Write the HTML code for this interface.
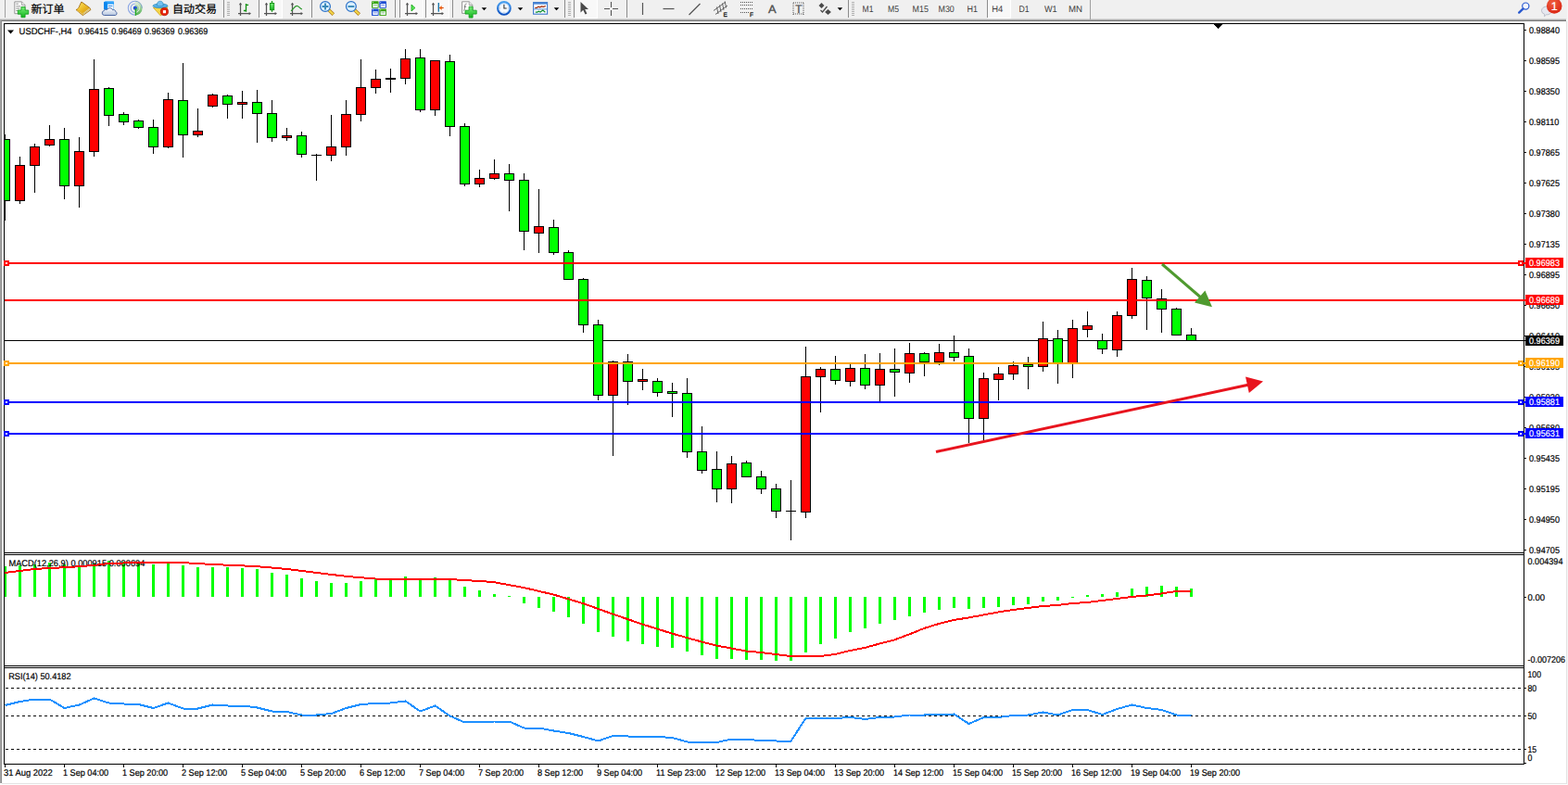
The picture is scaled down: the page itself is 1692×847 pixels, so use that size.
<!DOCTYPE html>
<html><head><meta charset="utf-8"><title>USDCHF H4</title>
<style>html,body{margin:0;padding:0;background:#fff;overflow:hidden}svg{display:block}text{font-family:"Liberation Sans",sans-serif;text-rendering:geometricPrecision}</style>
</head><body>
<svg width="1692" height="847" viewBox="0 0 1692 847">
<rect x="0" y="0" width="1692" height="847" fill="#ffffff"/>
<rect x="0" y="0" width="1692" height="21" fill="#f0f0f0"/>
<defs><linearGradient id="tg" x1="0" y1="0" x2="0" y2="1"><stop offset="0" stop-color="#e8e8e8"/><stop offset="0.4" stop-color="#b8b8b8"/><stop offset="1" stop-color="#606060"/></linearGradient><linearGradient id="lg" x1="0" y1="0" x2="1" y2="0"><stop offset="0" stop-color="#a8a8a8"/><stop offset="0.6" stop-color="#a0a0a0"/><stop offset="1" stop-color="#707070"/></linearGradient></defs>
<rect x="0" y="20" width="1690" height="3" fill="url(#tg)"/>
<rect x="0" y="22" width="2" height="823" fill="url(#lg)"/>
<rect x="1690" y="23" width="1" height="823" fill="#e3e3e3"/>
<rect x="1691" y="0" width="1" height="847" fill="#f6f6f6"/>
<rect x="2" y="845" width="1689" height="1" fill="#e3e3e3"/>
<defs><linearGradient id="gd" x1="0" y1="0" x2="1" y2="1"><stop offset="0" stop-color="#fbe870"/><stop offset="0.55" stop-color="#ecb822"/><stop offset="1" stop-color="#c8901a"/></linearGradient><linearGradient id="gp" x1="0" y1="0" x2="0" y2="1"><stop offset="0" stop-color="#7af07a"/><stop offset="1" stop-color="#12b41c"/></linearGradient><linearGradient id="cl" x1="0" y1="0" x2="0" y2="1"><stop offset="0" stop-color="#ffffff"/><stop offset="1" stop-color="#b4c4de"/></linearGradient><linearGradient id="sw" x1="0" y1="0" x2="0" y2="1"><stop offset="0" stop-color="#e4eee0"/><stop offset="1" stop-color="#3aa83a"/></linearGradient><linearGradient id="ck" x1="0" y1="0" x2="0" y2="1"><stop offset="0" stop-color="#48a0f0"/><stop offset="1" stop-color="#0c50c0"/></linearGradient><radialGradient id="rb" cx="0.4" cy="0.3" r="0.8"><stop offset="0" stop-color="#f06040"/><stop offset="1" stop-color="#d82010"/></radialGradient></defs>
<rect x="5" y="0" width="1" height="19" fill="#a0a0a0" shape-rendering="crispEdges"/>
<path d="M15.8 1.9h7.6l3.6 3.6v9.2h-11.2z" fill="#fdfdfd" stroke="#8c8c8c" stroke-width="0.9"/><path d="M23.4 1.9v3.6h3.6" fill="#e8e8e8" stroke="#8c8c8c" stroke-width="0.7"/><path d="M17.3 4.2h2.6M17.3 6.8h4.8M17.3 9.1h4M17.3 11.5h2" stroke="#8a8a8a" stroke-width="0.9"/><path d="M22.9 7.5h4.2v3.5h3.6v4.2h-3.6v3.5h-4.2v-3.5h-3.6v-4.2h3.6z" fill="url(#gp)" stroke="#0e9a18" stroke-width="0.8"/>
<path d="M87.900 2l8.900 6.400 1.100 2.200-8.500 6-7.300-6c2-1 3.500-2.600 3.300-3.400z" fill="#e8b428" stroke="#a06c12" stroke-width="0.900" stroke-linejoin="round"/><path d="M88.100 3l8 5.600-6.600 5.200-6.200-3.700c1.500-.8 3-2.400 2.900-3.300z" fill="url(#gd)"/><path d="M83 10.700l6.500 3.700v1.900l-6.600-5.200z" fill="#d9a21e"/><path d="M83.300 11.500l6.200 3.800" stroke="#f6e08a" stroke-width="0.600"/><path d="M89.700 14.300l6.900-5.200.8 1.500-7.700 5.500z" fill="#eadfae"/><path d="M89.800 15.200l7.200-5.300" stroke="#a8853a" stroke-width="0.450"/>
<path d="M112 2.2l2.2-1h8.2l.6 1.2v8h-11z" fill="#1c98f8"/><path d="M112 2.200l2.200-1h8.200l.6 1.200z" fill="#6cc0ff"/><rect x="112" y="2.200" width="3.400" height="8" fill="#0a86ec"/><rect x="116.2" y="4.4" width="6.4" height="6" fill="#f0f8ff"/><rect x="117" y="5.9" width="4.4" height="0.9" fill="#2880e0"/><path d="M112.400 16.500a2.500 2.500 0 0 1-.3-4.900a2.800 2.800 0 0 1 3.400-1.200a3.400 3.400 0 0 1 6.200.4a2.400 2.400 0 0 1 3.300 1.900a2.100 2.100 0 0 1-.4 3.800z" fill="url(#cl)" stroke="#3e5c9c" stroke-width="0.9"/>
<path d="M145.8 8.8v-7.8a7.8 7.8 0 0 1 0 15.6z" fill="url(#sw)" opacity="0.9"/><g fill="none"><path d="M145.8 1.2a7.5 7.5 0 0 0 0 15" stroke="#4a76dc" stroke-width="1.1" opacity="0.6"/><path d="M145.8 4a4.7 4.7 0 0 0 0 9.4" stroke="#4a76dc" stroke-width="1.1" opacity="0.6"/><path d="M145.8 1.2a7.5 7.5 0 0 1 7.5 7.5" stroke="#6a94c8" stroke-width="1" opacity="0.8"/><path d="M145.8 4a4.7 4.7 0 0 1 0 9.4" stroke="#eef4ee" stroke-width="0.9" opacity="0.9"/></g><circle cx="145.8" cy="8.7" r="2.1" fill="#2454d4"/><rect x="145.8" y="9" width="1.2" height="7.8" fill="#1fa81f"/>
<path d="M165.3 8.2l15.4-.8-.6 4-6.8 5.5z" fill="#f6d648" stroke="#cc9c14" stroke-width="0.7"/><ellipse cx="173" cy="6.300" rx="8" ry="2.300" fill="#58b0e8" stroke="#2486b8" stroke-width="0.700"/><path d="M169.300 6c0-3.200 1.200-4.800 3.500-4.800s3.400 1.600 3.400 4.800c-2 .9-5 .9-6.900 0z" fill="#74c0f0" stroke="#2486b8" stroke-width="0.600"/><circle cx="177.4" cy="12.6" r="4.1" fill="#e62408" stroke="#b41404" stroke-width="0.8"/><rect x="175.9" y="11.1" width="3.1" height="3.1" fill="#fff"/>
<rect x="241" y="0" width="1" height="19" fill="#8c8c8c" shape-rendering="crispEdges"/>
<path d="M245 2h3v1h-3zM245 4h3v1h-3zM245 6h3v1h-3zM245 8h3v1h-3zM245 10h3v1h-3zM245 12h3v1h-3zM245 14h3v1h-3zM245 16h3v1h-3z" fill="#b0b0b0" shape-rendering="crispEdges"/>
<path d="M259.5 3.6v13.3M257 14.6h13" stroke="#555" stroke-width="1.25" fill="none"/><path d="M259.5 2.8l-1.7 2.4h3.400zM271 14.6l-2.4-1.7v3.400z" fill="#555"/>
<path d="M265.5 4v8.800M265.500 5.300h2.600M262.900 11.500h2.600" stroke="#109010" stroke-width="1.3" fill="none"/>
<rect x="279" y="0" width="1" height="19" fill="#8c8c8c" shape-rendering="crispEdges"/>
<rect x="280" y="0" width="24" height="19" fill="#f8f8f8"/><rect x="280" y="19" width="25" height="1" fill="#ffffff"/><rect x="304" y="0" width="1" height="20" fill="#ffffff"/>
<path d="M287.5 3.6v13.3M285 14.6h13" stroke="#555" stroke-width="1.25" fill="none"/><path d="M287.5 2.8l-1.7 2.4h3.400zM299 14.6l-2.4-1.7v3.400z" fill="#555"/>
<path d="M293.500 1v11.800" stroke="#109010" stroke-width="1.2"/><rect x="291.400" y="3.500" width="4.300" height="7.200" fill="url(#gp)" stroke="#109010" stroke-width="0.9"/>
<path d="M315.5 3.6v13.3M313 14.6h13" stroke="#555" stroke-width="1.25" fill="none"/><path d="M315.5 2.8l-1.7 2.4h3.400zM327 14.6l-2.4-1.7v3.400z" fill="#555"/>
<path d="M314 11.800c2.200-1.600 4-5.400 6.200-5.500s3 2.800 5.700 3.700" stroke="#2a982a" stroke-width="1.2" fill="none"/>
<rect x="336" y="0" width="1" height="19" fill="#8c8c8c" shape-rendering="crispEdges"/>
<path d="M354.8 10.800l5 4.800" stroke="#a8741a" stroke-width="3.600" stroke-linecap="butt"/><path d="M354.6 10.600l5 4.800" stroke="#f2d448" stroke-width="2.200" stroke-linecap="butt"/><circle cx="351" cy="7" r="5.400" fill="#daf0ff" stroke="#2a70c8" stroke-width="1.200"/><path d="M347.6 7h6.800M351 3.600v6.800" stroke="#3a88b8" stroke-width="1.900"/>
<path d="M382.7 10.800l5 4.800" stroke="#a8741a" stroke-width="3.600" stroke-linecap="butt"/><path d="M382.5 10.600l5 4.800" stroke="#f2d448" stroke-width="2.200" stroke-linecap="butt"/><circle cx="378.9" cy="7" r="5.400" fill="#daf0ff" stroke="#2a70c8" stroke-width="1.200"/><path d="M375.5 7h6.800" stroke="#3a88b8" stroke-width="1.900"/>
<rect x="401" y="1.3" width="7.600" height="7.400" rx="0.700" fill="#3aa414"/><rect x="402.3" y="4.1" width="5.400" height="3.800" fill="#f4f8ff"/><rect x="403.1" y="5.3" width="3.800" height="0.800" fill="#3aa414" opacity="0.700"/><rect x="401.9" y="2.2" width="1" height="0.800" fill="#fff" opacity="0.800"/>
<rect x="409.3" y="1.3" width="7.600" height="7.400" rx="0.700" fill="#1c4cd2"/><rect x="410.6" y="4.1" width="5.400" height="3.800" fill="#f4f8ff"/><rect x="411.40000000000003" y="5.3" width="3.800" height="0.800" fill="#1c4cd2" opacity="0.700"/><rect x="410.2" y="2.2" width="1" height="0.800" fill="#fff" opacity="0.800"/>
<rect x="401" y="9.5" width="7.600" height="7.400" rx="0.700" fill="#1c4cd2"/><rect x="402.3" y="12.3" width="5.400" height="3.800" fill="#f4f8ff"/><rect x="403.1" y="13.5" width="3.800" height="0.800" fill="#1c4cd2" opacity="0.700"/><rect x="401.9" y="10.4" width="1" height="0.800" fill="#fff" opacity="0.800"/>
<rect x="409.3" y="9.5" width="7.600" height="7.400" rx="0.700" fill="#3aa414"/><rect x="410.6" y="12.3" width="5.400" height="3.800" fill="#f4f8ff"/><rect x="411.40000000000003" y="13.5" width="3.800" height="0.800" fill="#3aa414" opacity="0.700"/><rect x="410.2" y="10.4" width="1" height="0.800" fill="#fff" opacity="0.800"/>
<rect x="426" y="0" width="1" height="19" fill="#8c8c8c" shape-rendering="crispEdges"/>
<rect x="431" y="0" width="1" height="19" fill="#8c8c8c" shape-rendering="crispEdges"/>
<rect x="432" y="0" width="24" height="19" fill="#f8f8f8"/><rect x="432" y="19" width="25" height="1" fill="#ffffff"/><rect x="456" y="0" width="1" height="20" fill="#ffffff"/>
<path d="M439.5 3.6v13.3M437 14.6h13" stroke="#555" stroke-width="1.25" fill="none"/><path d="M439.5 2.8l-1.7 2.4h3.400zM451 14.6l-2.4-1.7v3.400z" fill="#555"/>
<path d="M444 5l3.900 3.500-3.900 3.500z" fill="#58e858" stroke="#10a010" stroke-width="0.800"/>
<rect x="459" y="0" width="1" height="19" fill="#8c8c8c" shape-rendering="crispEdges"/>
<rect x="460" y="0" width="24" height="19" fill="#f8f8f8"/><rect x="460" y="19" width="25" height="1" fill="#ffffff"/><rect x="484" y="0" width="1" height="20" fill="#ffffff"/>
<path d="M467.5 3.6v13.3M465 14.6h13" stroke="#555" stroke-width="1.25" fill="none"/><path d="M467.5 2.8l-1.7 2.4h3.400zM479 14.6l-2.4-1.7v3.400z" fill="#555"/>
<path d="M473.300 3.100v9.700" stroke="#1070a8" stroke-width="1.300"/><path d="M478.700 8.500h-4.400" stroke="#d84808" stroke-width="1.100"/><path d="M474 8.500l2.600-2.400v4.800z" fill="#e85808"/>
<rect x="488" y="0" width="1" height="19" fill="#8c8c8c" shape-rendering="crispEdges"/>
<path d="M498.600 1.800h7.600l3.600 3.600v9h-11.200z" fill="#fdfdfd" stroke="#8c8c8c" stroke-width="0.900"/><path d="M506.200 1.800v3.600h3.600" fill="#e8e8e8" stroke="#8c8c8c" stroke-width="0.700"/><path d="M503.600 4c-1.600-.2-1.800 1.200-2 3s-.2 4.400-1.400 4.600M500.800 7.200h2.400" stroke="#666" stroke-width="0.800" fill="none"/><path d="M506.100 7.200h4v4h4.100v3.900h-4.100v4h-4v-4h-4.100v-3.900h4.100z" fill="url(#gp)" stroke="#0e9a18" stroke-width="0.800"/>
<path d="M519.6 8.2h5.6l-2.8 3z" fill="#000"/>
<circle cx="543.900" cy="8.900" r="6.800" fill="#f6faff" stroke="url(#ck)" stroke-width="2.100"/><circle cx="543.900" cy="8.900" r="5.300" fill="none" stroke="#9cc4f4" stroke-width="0.600"/><path d="M543.900 5v4h2.800" stroke="#333" stroke-width="1.100" fill="none"/><path d="M543.900 4.200v.8M543.900 12.800v.8M539.200 8.900h.8M547.800 8.900h.800" stroke="#999" stroke-width="0.700"/>
<path d="M558.7 8.2h5.6l-2.8 3z" fill="#000"/>
<rect x="575.600" y="2.600" width="15" height="12.600" fill="#fafcff" stroke="#3c78cc" stroke-width="1.100"/><rect x="575.600" y="2.600" width="15" height="2" fill="#4684d4"/><path d="M577.200 8.500l2-.1 1.800-1.300 1.600.7 1.800-.9 2 .5 2.400-.9" stroke="#a02808" stroke-width="1.200" fill="none"/><path d="M576.200 9.900h13.800" stroke="#4684d4" stroke-width="0.900"/><path d="M577.800 13.200l2-.1 1.600-.9 1.600.8 2.800-2 2.600 2.200" stroke="#109030" stroke-width="1.200" fill="none"/>
<path d="M597.7 8.2h5.6l-2.8 3z" fill="#000"/>
<rect x="609" y="0" width="1" height="19" fill="#8c8c8c" shape-rendering="crispEdges"/>
<path d="M612.5 2h3v1h-3zM612.5 4h3v1h-3zM612.5 6h3v1h-3zM612.5 8h3v1h-3zM612.5 10h3v1h-3zM612.5 12h3v1h-3zM612.5 14h3v1h-3zM612.5 16h3v1h-3z" fill="#b0b0b0" shape-rendering="crispEdges"/>
<rect x="619" y="0" width="1" height="19" fill="#8c8c8c" shape-rendering="crispEdges"/>
<rect x="620" y="0" width="24" height="19" fill="#f8f8f8"/><rect x="620" y="19" width="25" height="1" fill="#ffffff"/><rect x="644" y="0" width="1" height="20" fill="#ffffff"/>
<path d="M626.500 2l0 11.400 2.800-2.600 2.200 4.800 1.900-.9-2.200-4.600 3.800-.2z" fill="#4a4a4a"/>
<path d="M659.500 2v6M659.500 11v6M652 9.500h6M661 9.500h6" stroke="#555" stroke-width="1.100"/>
<rect x="676" y="0" width="1" height="19" fill="#8c8c8c" shape-rendering="crispEdges"/>
<path d="M693.500 3v13" stroke="#555" stroke-width="1.200"/>
<path d="M715.500 9.500h12" stroke="#555" stroke-width="1.200"/>
<path d="M743.500 16l12-12" stroke="#555" stroke-width="1.200"/>
<path d="M770 11.500l13-9.500M772 15.500l13-9.500M773.500 7.500l1.500 7.500M776.500 5.500l1.500 7.500M779.500 3.500l1.500 7.500M782.200 1.500l1.400 7" stroke="#555" stroke-width="0.900" fill="none"/>
<path d="M799 2.5h1M801 2.5h1M803 2.5h1M805 2.5h1M807 2.5h1M809 2.5h1M811 2.5h1" stroke="#555" stroke-width="1"/>
<path d="M799 5.5h1M801 5.5h1M803 5.5h1M805 5.5h1M807 5.5h1M809 5.5h1M811 5.5h1" stroke="#555" stroke-width="1"/>
<path d="M799 9.5h1M801 9.5h1M803 9.5h1M805 9.5h1M807 9.5h1M809 9.5h1M811 9.5h1" stroke="#555" stroke-width="1"/>
<path d="M799 13.5h1M801 13.5h1M803 13.5h1M805 13.5h1M807 13.5h1" stroke="#555" stroke-width="1"/>
<path d="M856 3h1M856 15h1M858 3h1M858 15h1M860 3h1M860 15h1M862 3h1M862 15h1M864 3h1M864 15h1M866 3h1M866 15h1M856 3v1M867 3v1M856 5v1M867 5v1M856 7v1M867 7v1M856 9v1M867 9v1M856 11v1M867 11v1M856 13v1M867 13v1M856 15v1M867 15v1" stroke="#555" stroke-width="1"/>
<path d="M886.500 3l3 3-3 3-3-3z" fill="#4a4a4a"/><path d="M893.500 10l3.400 3-3.400 3-3.400-3z" fill="#4a4a4a"/><path d="M885.500 11l2 2 5-6" stroke="#4a4a4a" stroke-width="1.300" fill="none"/>
<path d="M903.6 8.2h5.6l-2.8 3z" fill="#000"/>
<rect x="915" y="0" width="1" height="19" fill="#8c8c8c" shape-rendering="crispEdges"/>
<path d="M918.5 2h3v1h-3zM918.5 4h3v1h-3zM918.5 6h3v1h-3zM918.5 8h3v1h-3zM918.5 10h3v1h-3zM918.5 12h3v1h-3zM918.5 14h3v1h-3zM918.5 16h3v1h-3z" fill="#b0b0b0" shape-rendering="crispEdges"/>
<rect x="1065" y="0" width="1" height="19" fill="#8c8c8c" shape-rendering="crispEdges"/>
<rect x="1066" y="0" width="24" height="19" fill="#f8f8f8"/><rect x="1066" y="19" width="25" height="1" fill="#ffffff"/><rect x="1090" y="0" width="1" height="20" fill="#ffffff"/>
<rect x="1176" y="0" width="1" height="21" fill="#a0a0a0" shape-rendering="crispEdges"/>
<circle cx="1646.300" cy="6.600" r="3.600" fill="#f4f6fc" stroke="#2a5ad0" stroke-width="1.200"/><path d="M1643.600 9.400l-4.400 4.200" stroke="#2a5ad0" stroke-width="2.400" stroke-linecap="round"/>
<path d="M1663.500 11.500a5.500 4.500 0 0 1 11 0a5.500 4.500 0 0 1-6 4.400l-2 1.800 .2-2.400a5 4 0 0 1-3.200-3.800z" fill="#e6e8f0" stroke="#b0b4c0" stroke-width="0.800"/><circle cx="1677.200" cy="6.400" r="8.300" fill="url(#rb)"/>
<text x="33.500" y="14.200" font-size="12" fill="#000" stroke="#000" stroke-width="0.2" style="font-family:'Liberation Sans','Noto Sans CJK SC',sans-serif">新订单</text>
<text x="186" y="14.200" font-size="12" fill="#000" stroke="#000" stroke-width="0.2" style="font-family:'Liberation Sans','Noto Sans CJK SC',sans-serif">自动交易</text>
<text transform="translate(930.6,13.0) scale(0.8741,1)" font-size="9.8" fill="#404040">M1</text>
<text transform="translate(958,13.0) scale(0.8815,1)" font-size="9.8" fill="#404040">M5</text>
<text transform="translate(984.6,13.0) scale(0.9075,1)" font-size="9.8" fill="#404040">M15</text>
<text transform="translate(1012.5,13.0) scale(0.9075,1)" font-size="9.8" fill="#404040">M30</text>
<text transform="translate(1043.5,13.0) scale(0.918,1)" font-size="9.8" fill="#404040">H1</text>
<text transform="translate(1070.2,13.0) scale(0.9579,1)" font-size="9.8" fill="#404040">H4</text>
<text transform="translate(1099.4,13.0) scale(0.894,1)" font-size="9.8" fill="#404040">D1</text>
<text transform="translate(1126.9,13.0) scale(0.932,1)" font-size="9.8" fill="#404040">W1</text>
<text transform="translate(1153,13.0) scale(0.9842,1)" font-size="9.8" fill="#404040">MN</text>
<text transform="translate(829,13.6) scale(1.0569,1)" font-size="12.2" fill="#505050" stroke="#505050" stroke-width="0.35">A</text>
<text transform="translate(858.2,14.0) scale(0.943,1)" font-size="12.5" fill="#505050" stroke="#505050" stroke-width="0.35">T</text>
<text x="780.6" y="17.6" font-size="6.5" fill="#222" stroke="#222" stroke-width="0.3">E</text>
<text x="808.9" y="17.6" font-size="6.5" fill="#222" stroke="#222" stroke-width="0.3">F</text>
<text x="1677.2" y="11.0" font-size="12.5" fill="#fff" stroke="#fff" stroke-width="0.2" text-anchor="middle">1</text>
<g shape-rendering="crispEdges">
<rect x="4" y="25" width="1" height="800" fill="#000000"/>
<rect x="1644" y="25" width="1" height="800" fill="#000000"/>
<rect x="4" y="25" width="1641" height="1" fill="#000000"/>
<rect x="4" y="596" width="1641" height="1" fill="#000000"/>
<rect x="4" y="598" width="1641" height="1" fill="#000000"/>
<rect x="4" y="718" width="1641" height="1" fill="#000000"/>
<rect x="4" y="720" width="1641" height="1" fill="#000000"/>
<rect x="4" y="824" width="1641" height="1" fill="#000000"/>
<rect x="1310" y="26" width="9" height="1" fill="#000000"/>
<rect x="1311" y="27" width="7" height="1" fill="#000000"/>
<rect x="1312" y="28" width="5" height="1" fill="#000000"/>
<rect x="1313" y="29" width="3" height="1" fill="#000000"/>
<rect x="1314" y="30" width="1" height="1" fill="#000000"/>
<rect x="1645" y="32" width="2" height="1" fill="#000000"/>
<rect x="1645" y="65" width="2" height="1" fill="#000000"/>
<rect x="1645" y="98" width="2" height="1" fill="#000000"/>
<rect x="1645" y="131" width="2" height="1" fill="#000000"/>
<rect x="1645" y="164" width="2" height="1" fill="#000000"/>
<rect x="1645" y="197" width="2" height="1" fill="#000000"/>
<rect x="1645" y="230" width="2" height="1" fill="#000000"/>
<rect x="1645" y="263" width="2" height="1" fill="#000000"/>
<rect x="1645" y="296" width="2" height="1" fill="#000000"/>
<rect x="1645" y="329" width="2" height="1" fill="#000000"/>
<rect x="1645" y="362" width="2" height="1" fill="#000000"/>
<rect x="1645" y="395" width="2" height="1" fill="#000000"/>
<rect x="1645" y="428" width="2" height="1" fill="#000000"/>
<rect x="1645" y="461" width="2" height="1" fill="#000000"/>
<rect x="1645" y="494" width="2" height="1" fill="#000000"/>
<rect x="1645" y="527" width="2" height="1" fill="#000000"/>
<rect x="1645" y="560" width="2" height="1" fill="#000000"/>
<rect x="1645" y="593" width="2" height="1" fill="#000000"/>
<rect x="1645" y="644" width="2" height="1" fill="#000000"/>
<rect x="1645" y="742" width="2" height="1" fill="#000000"/>
<rect x="1645" y="772" width="2" height="1" fill="#000000"/>
<rect x="1645" y="808" width="2" height="1" fill="#000000"/>
<rect x="1645" y="823" width="2" height="1" fill="#000000"/>
<rect x="5" y="825" width="1" height="3" fill="#000000"/>
<rect x="69" y="825" width="1" height="3" fill="#000000"/>
<rect x="133" y="825" width="1" height="3" fill="#000000"/>
<rect x="197" y="825" width="1" height="3" fill="#000000"/>
<rect x="261" y="825" width="1" height="3" fill="#000000"/>
<rect x="325" y="825" width="1" height="3" fill="#000000"/>
<rect x="389" y="825" width="1" height="3" fill="#000000"/>
<rect x="453" y="825" width="1" height="3" fill="#000000"/>
<rect x="517" y="825" width="1" height="3" fill="#000000"/>
<rect x="581" y="825" width="1" height="3" fill="#000000"/>
<rect x="645" y="825" width="1" height="3" fill="#000000"/>
<rect x="709" y="825" width="1" height="3" fill="#000000"/>
<rect x="773" y="825" width="1" height="3" fill="#000000"/>
<rect x="837" y="825" width="1" height="3" fill="#000000"/>
<rect x="901" y="825" width="1" height="3" fill="#000000"/>
<rect x="965" y="825" width="1" height="3" fill="#000000"/>
<rect x="1029" y="825" width="1" height="3" fill="#000000"/>
<rect x="1093" y="825" width="1" height="3" fill="#000000"/>
<rect x="1157" y="825" width="1" height="3" fill="#000000"/>
<rect x="1221" y="825" width="1" height="3" fill="#000000"/>
<rect x="1285" y="825" width="1" height="3" fill="#000000"/>
</g>
<text transform="translate(1650,36.0) scale(0.9316,1)" font-size="9.8" fill="#000" stroke="#000" stroke-width="0.2">0.98840</text>
<text transform="translate(1650,69.0) scale(0.9316,1)" font-size="9.8" fill="#000" stroke="#000" stroke-width="0.2">0.98595</text>
<text transform="translate(1650,102.0) scale(0.9316,1)" font-size="9.8" fill="#000" stroke="#000" stroke-width="0.2">0.98350</text>
<text transform="translate(1650,135.0) scale(0.9316,1)" font-size="9.8" fill="#000" stroke="#000" stroke-width="0.2">0.98110</text>
<text transform="translate(1650,168.0) scale(0.9316,1)" font-size="9.8" fill="#000" stroke="#000" stroke-width="0.2">0.97865</text>
<text transform="translate(1650,201.0) scale(0.9316,1)" font-size="9.8" fill="#000" stroke="#000" stroke-width="0.2">0.97625</text>
<text transform="translate(1650,234.0) scale(0.9316,1)" font-size="9.8" fill="#000" stroke="#000" stroke-width="0.2">0.97380</text>
<text transform="translate(1650,267.0) scale(0.9316,1)" font-size="9.8" fill="#000" stroke="#000" stroke-width="0.2">0.97135</text>
<text transform="translate(1650,300.0) scale(0.9316,1)" font-size="9.8" fill="#000" stroke="#000" stroke-width="0.2">0.96895</text>
<text transform="translate(1650,333.0) scale(0.9316,1)" font-size="9.8" fill="#000" stroke="#000" stroke-width="0.2">0.96650</text>
<text transform="translate(1650,366.0) scale(0.9316,1)" font-size="9.8" fill="#000" stroke="#000" stroke-width="0.2">0.96410</text>
<text transform="translate(1650,399.0) scale(0.9316,1)" font-size="9.8" fill="#000" stroke="#000" stroke-width="0.2">0.96165</text>
<text transform="translate(1650,432.0) scale(0.9316,1)" font-size="9.8" fill="#000" stroke="#000" stroke-width="0.2">0.95920</text>
<text transform="translate(1650,465.0) scale(0.9316,1)" font-size="9.8" fill="#000" stroke="#000" stroke-width="0.2">0.95680</text>
<text transform="translate(1650,498.0) scale(0.9316,1)" font-size="9.8" fill="#000" stroke="#000" stroke-width="0.2">0.95435</text>
<text transform="translate(1650,531.0) scale(0.9316,1)" font-size="9.8" fill="#000" stroke="#000" stroke-width="0.2">0.95195</text>
<text transform="translate(1650,564.0) scale(0.9316,1)" font-size="9.8" fill="#000" stroke="#000" stroke-width="0.2">0.94950</text>
<text transform="translate(1650,597.0) scale(0.9316,1)" font-size="9.8" fill="#000" stroke="#000" stroke-width="0.2">0.94705</text>
<text transform="translate(1648.5,609.0) scale(0.9297,1)" font-size="9.8" fill="#000" stroke="#000" stroke-width="0.2">0.004394</text>
<text transform="translate(1648.5,648.0) scale(0.9699,1)" font-size="9.8" fill="#000" stroke="#000" stroke-width="0.2">0.00</text>
<text transform="translate(1648.5,715.0) scale(0.9176,1)" font-size="9.8" fill="#000" stroke="#000" stroke-width="0.2">-0.007206</text>
<text transform="translate(1648.5,731.0) scale(0.8868,1)" font-size="9.8" fill="#000" stroke="#000" stroke-width="0.2">100</text>
<text transform="translate(1648.5,746.0) scale(0.8899,1)" font-size="9.8" fill="#000" stroke="#000" stroke-width="0.2">80</text>
<text transform="translate(1648.5,776.0) scale(0.8899,1)" font-size="9.8" fill="#000" stroke="#000" stroke-width="0.2">50</text>
<text transform="translate(1648.5,812.0) scale(0.8899,1)" font-size="9.8" fill="#000" stroke="#000" stroke-width="0.2">15</text>
<text transform="translate(1648.5,821.0) scale(0.899,1)" font-size="9.8" fill="#000" stroke="#000" stroke-width="0.2">0</text>
<path d="M8 32.5h7l-3.5 4z" fill="#000"/>
<text transform="translate(20.6,37.0) scale(0.9605,1)" font-size="9.8" fill="#000" stroke="#000" stroke-width="0.2">USDCHF-,H4</text>
<text transform="translate(84.4,37.0) scale(0.9146,1)" font-size="9.8" fill="#000" stroke="#000" stroke-width="0.2">0.96415</text>
<text transform="translate(120.3,37.0) scale(0.9146,1)" font-size="9.8" fill="#000" stroke="#000" stroke-width="0.2">0.96469</text>
<text transform="translate(156,37.0) scale(0.9146,1)" font-size="9.8" fill="#000" stroke="#000" stroke-width="0.2">0.96369</text>
<text transform="translate(191.9,37.0) scale(0.9146,1)" font-size="9.8" fill="#000" stroke="#000" stroke-width="0.2">0.96369</text>
<g shape-rendering="crispEdges">
<rect x="5" y="367" width="1641" height="1" fill="#000000"/>
<clipPath id="cm"><rect x="5" y="26" width="1639" height="570"/></clipPath><g clip-path="url(#cm)">
<rect x="5" y="145" width="1" height="93" fill="#000000"/>
<rect x="0" y="150" width="11" height="67" fill="#000000"/>
<rect x="1" y="151" width="9" height="65" fill="#00FF00"/>
<rect x="21" y="169" width="1" height="51" fill="#000000"/>
<rect x="16" y="178" width="11" height="39" fill="#000000"/>
<rect x="17" y="179" width="9" height="37" fill="#FF0000"/>
<rect x="37" y="155" width="1" height="53" fill="#000000"/>
<rect x="32" y="158" width="11" height="21" fill="#000000"/>
<rect x="33" y="159" width="9" height="19" fill="#FF0000"/>
<rect x="53" y="135" width="1" height="23" fill="#000000"/>
<rect x="48" y="150" width="11" height="7" fill="#000000"/>
<rect x="49" y="151" width="9" height="5" fill="#FF0000"/>
<rect x="69" y="138" width="1" height="77" fill="#000000"/>
<rect x="64" y="150" width="11" height="51" fill="#000000"/>
<rect x="65" y="151" width="9" height="49" fill="#00FF00"/>
<rect x="85" y="148" width="1" height="76" fill="#000000"/>
<rect x="80" y="163" width="11" height="38" fill="#000000"/>
<rect x="81" y="164" width="9" height="36" fill="#FF0000"/>
<rect x="101" y="64" width="1" height="105" fill="#000000"/>
<rect x="96" y="96" width="11" height="68" fill="#000000"/>
<rect x="97" y="97" width="9" height="66" fill="#FF0000"/>
<rect x="117" y="94" width="1" height="42" fill="#000000"/>
<rect x="112" y="95" width="11" height="30" fill="#000000"/>
<rect x="113" y="96" width="9" height="28" fill="#00FF00"/>
<rect x="133" y="121" width="1" height="14" fill="#000000"/>
<rect x="128" y="123" width="11" height="9" fill="#000000"/>
<rect x="129" y="124" width="9" height="7" fill="#00FF00"/>
<rect x="149" y="129" width="1" height="10" fill="#000000"/>
<rect x="144" y="130" width="11" height="8" fill="#000000"/>
<rect x="145" y="131" width="9" height="6" fill="#00FF00"/>
<rect x="165" y="129" width="1" height="37" fill="#000000"/>
<rect x="160" y="137" width="11" height="22" fill="#000000"/>
<rect x="161" y="138" width="9" height="20" fill="#00FF00"/>
<rect x="181" y="100" width="1" height="60" fill="#000000"/>
<rect x="176" y="107" width="11" height="52" fill="#000000"/>
<rect x="177" y="108" width="9" height="50" fill="#FF0000"/>
<rect x="197" y="68" width="1" height="102" fill="#000000"/>
<rect x="192" y="108" width="11" height="38" fill="#000000"/>
<rect x="193" y="109" width="9" height="36" fill="#00FF00"/>
<rect x="213" y="117" width="1" height="31" fill="#000000"/>
<rect x="208" y="141" width="11" height="5" fill="#000000"/>
<rect x="209" y="142" width="9" height="3" fill="#FF0000"/>
<rect x="229" y="101" width="1" height="15" fill="#000000"/>
<rect x="224" y="102" width="11" height="13" fill="#000000"/>
<rect x="225" y="103" width="9" height="11" fill="#FF0000"/>
<rect x="245" y="102" width="1" height="26" fill="#000000"/>
<rect x="240" y="103" width="11" height="10" fill="#000000"/>
<rect x="241" y="104" width="9" height="8" fill="#00FF00"/>
<rect x="261" y="98" width="1" height="30" fill="#000000"/>
<rect x="256" y="110" width="11" height="3" fill="#000000"/>
<rect x="257" y="111" width="9" height="1" fill="#FF0000"/>
<rect x="277" y="97" width="1" height="57" fill="#000000"/>
<rect x="272" y="110" width="11" height="13" fill="#000000"/>
<rect x="273" y="111" width="9" height="11" fill="#00FF00"/>
<rect x="293" y="108" width="1" height="45" fill="#000000"/>
<rect x="288" y="122" width="11" height="27" fill="#000000"/>
<rect x="289" y="123" width="9" height="25" fill="#00FF00"/>
<rect x="309" y="138" width="1" height="14" fill="#000000"/>
<rect x="304" y="146" width="11" height="3" fill="#000000"/>
<rect x="305" y="147" width="9" height="1" fill="#FF0000"/>
<rect x="325" y="142" width="1" height="28" fill="#000000"/>
<rect x="320" y="146" width="11" height="21" fill="#000000"/>
<rect x="321" y="147" width="9" height="19" fill="#00FF00"/>
<rect x="341" y="166" width="1" height="29" fill="#000000"/>
<rect x="336" y="167" width="11" height="1" fill="#000000"/>
<rect x="357" y="124" width="1" height="50" fill="#000000"/>
<rect x="352" y="158" width="11" height="10" fill="#000000"/>
<rect x="353" y="159" width="9" height="8" fill="#FF0000"/>
<rect x="373" y="108" width="1" height="60" fill="#000000"/>
<rect x="368" y="123" width="11" height="36" fill="#000000"/>
<rect x="369" y="124" width="9" height="34" fill="#FF0000"/>
<rect x="389" y="64" width="1" height="67" fill="#000000"/>
<rect x="384" y="94" width="11" height="30" fill="#000000"/>
<rect x="385" y="95" width="9" height="28" fill="#FF0000"/>
<rect x="405" y="75" width="1" height="26" fill="#000000"/>
<rect x="400" y="85" width="11" height="10" fill="#000000"/>
<rect x="401" y="86" width="9" height="8" fill="#FF0000"/>
<rect x="421" y="74" width="1" height="26" fill="#000000"/>
<rect x="416" y="84" width="11" height="2" fill="#000000"/>
<rect x="437" y="53" width="1" height="38" fill="#000000"/>
<rect x="432" y="63" width="11" height="22" fill="#000000"/>
<rect x="433" y="64" width="9" height="20" fill="#FF0000"/>
<rect x="453" y="53" width="1" height="68" fill="#000000"/>
<rect x="448" y="62" width="11" height="57" fill="#000000"/>
<rect x="449" y="63" width="9" height="55" fill="#00FF00"/>
<rect x="469" y="65" width="1" height="60" fill="#000000"/>
<rect x="464" y="65" width="11" height="54" fill="#000000"/>
<rect x="465" y="66" width="9" height="52" fill="#FF0000"/>
<rect x="485" y="59" width="1" height="88" fill="#000000"/>
<rect x="480" y="66" width="11" height="71" fill="#000000"/>
<rect x="481" y="67" width="9" height="69" fill="#00FF00"/>
<rect x="501" y="133" width="1" height="68" fill="#000000"/>
<rect x="496" y="136" width="11" height="63" fill="#000000"/>
<rect x="497" y="137" width="9" height="61" fill="#00FF00"/>
<rect x="517" y="183" width="1" height="19" fill="#000000"/>
<rect x="512" y="192" width="11" height="7" fill="#000000"/>
<rect x="513" y="193" width="9" height="5" fill="#FF0000"/>
<rect x="533" y="172" width="1" height="22" fill="#000000"/>
<rect x="528" y="187" width="11" height="6" fill="#000000"/>
<rect x="529" y="188" width="9" height="4" fill="#FF0000"/>
<rect x="549" y="177" width="1" height="51" fill="#000000"/>
<rect x="544" y="187" width="11" height="8" fill="#000000"/>
<rect x="545" y="188" width="9" height="6" fill="#00FF00"/>
<rect x="565" y="187" width="1" height="83" fill="#000000"/>
<rect x="560" y="194" width="11" height="56" fill="#000000"/>
<rect x="561" y="195" width="9" height="54" fill="#00FF00"/>
<rect x="581" y="204" width="1" height="69" fill="#000000"/>
<rect x="576" y="244" width="11" height="8" fill="#000000"/>
<rect x="577" y="245" width="9" height="6" fill="#FF0000"/>
<rect x="597" y="237" width="1" height="38" fill="#000000"/>
<rect x="592" y="245" width="11" height="28" fill="#000000"/>
<rect x="593" y="246" width="9" height="26" fill="#00FF00"/>
<rect x="613" y="270" width="1" height="32" fill="#000000"/>
<rect x="608" y="272" width="11" height="30" fill="#000000"/>
<rect x="609" y="273" width="9" height="28" fill="#00FF00"/>
<rect x="629" y="300" width="1" height="59" fill="#000000"/>
<rect x="624" y="301" width="11" height="50" fill="#000000"/>
<rect x="625" y="302" width="9" height="48" fill="#00FF00"/>
<rect x="645" y="345" width="1" height="87" fill="#000000"/>
<rect x="640" y="350" width="11" height="77" fill="#000000"/>
<rect x="641" y="351" width="9" height="75" fill="#00FF00"/>
<rect x="661" y="389" width="1" height="103" fill="#000000"/>
<rect x="656" y="390" width="11" height="37" fill="#000000"/>
<rect x="657" y="391" width="9" height="35" fill="#FF0000"/>
<rect x="677" y="382" width="1" height="55" fill="#000000"/>
<rect x="672" y="390" width="11" height="22" fill="#000000"/>
<rect x="673" y="391" width="9" height="20" fill="#00FF00"/>
<rect x="693" y="398" width="1" height="23" fill="#000000"/>
<rect x="688" y="409" width="11" height="3" fill="#000000"/>
<rect x="689" y="410" width="9" height="1" fill="#FF0000"/>
<rect x="709" y="408" width="1" height="20" fill="#000000"/>
<rect x="704" y="411" width="11" height="13" fill="#000000"/>
<rect x="705" y="412" width="9" height="11" fill="#00FF00"/>
<rect x="725" y="413" width="1" height="37" fill="#000000"/>
<rect x="720" y="422" width="11" height="3" fill="#000000"/>
<rect x="721" y="423" width="9" height="1" fill="#00FF00"/>
<rect x="741" y="408" width="1" height="86" fill="#000000"/>
<rect x="736" y="424" width="11" height="64" fill="#000000"/>
<rect x="737" y="425" width="9" height="62" fill="#00FF00"/>
<rect x="757" y="460" width="1" height="51" fill="#000000"/>
<rect x="752" y="487" width="11" height="21" fill="#000000"/>
<rect x="753" y="488" width="9" height="19" fill="#00FF00"/>
<rect x="773" y="487" width="1" height="55" fill="#000000"/>
<rect x="768" y="506" width="11" height="22" fill="#000000"/>
<rect x="769" y="507" width="9" height="20" fill="#00FF00"/>
<rect x="789" y="492" width="1" height="51" fill="#000000"/>
<rect x="784" y="500" width="11" height="28" fill="#000000"/>
<rect x="785" y="501" width="9" height="26" fill="#FF0000"/>
<rect x="805" y="497" width="1" height="18" fill="#000000"/>
<rect x="800" y="499" width="11" height="16" fill="#000000"/>
<rect x="801" y="500" width="9" height="14" fill="#00FF00"/>
<rect x="821" y="508" width="1" height="25" fill="#000000"/>
<rect x="816" y="514" width="11" height="14" fill="#000000"/>
<rect x="817" y="515" width="9" height="12" fill="#00FF00"/>
<rect x="837" y="522" width="1" height="37" fill="#000000"/>
<rect x="832" y="527" width="11" height="25" fill="#000000"/>
<rect x="833" y="528" width="9" height="23" fill="#00FF00"/>
<rect x="853" y="518" width="1" height="65" fill="#000000"/>
<rect x="848" y="551" width="11" height="1" fill="#000000"/>
<rect x="869" y="374" width="1" height="185" fill="#000000"/>
<rect x="864" y="406" width="11" height="147" fill="#000000"/>
<rect x="865" y="407" width="9" height="145" fill="#FF0000"/>
<rect x="885" y="396" width="1" height="49" fill="#000000"/>
<rect x="880" y="398" width="11" height="9" fill="#000000"/>
<rect x="881" y="399" width="9" height="7" fill="#FF0000"/>
<rect x="901" y="384" width="1" height="31" fill="#000000"/>
<rect x="896" y="398" width="11" height="13" fill="#000000"/>
<rect x="897" y="399" width="9" height="11" fill="#00FF00"/>
<rect x="917" y="393" width="1" height="24" fill="#000000"/>
<rect x="912" y="397" width="11" height="15" fill="#000000"/>
<rect x="913" y="398" width="9" height="13" fill="#FF0000"/>
<rect x="933" y="382" width="1" height="38" fill="#000000"/>
<rect x="928" y="397" width="11" height="19" fill="#000000"/>
<rect x="929" y="398" width="9" height="17" fill="#00FF00"/>
<rect x="949" y="381" width="1" height="52" fill="#000000"/>
<rect x="944" y="398" width="11" height="18" fill="#000000"/>
<rect x="945" y="399" width="9" height="16" fill="#FF0000"/>
<rect x="965" y="376" width="1" height="52" fill="#000000"/>
<rect x="960" y="398" width="11" height="4" fill="#000000"/>
<rect x="961" y="399" width="9" height="2" fill="#00FF00"/>
<rect x="981" y="370" width="1" height="43" fill="#000000"/>
<rect x="976" y="381" width="11" height="22" fill="#000000"/>
<rect x="977" y="382" width="9" height="20" fill="#FF0000"/>
<rect x="997" y="380" width="1" height="26" fill="#000000"/>
<rect x="992" y="381" width="11" height="10" fill="#000000"/>
<rect x="993" y="382" width="9" height="8" fill="#00FF00"/>
<rect x="1013" y="371" width="1" height="23" fill="#000000"/>
<rect x="1008" y="380" width="11" height="11" fill="#000000"/>
<rect x="1009" y="381" width="9" height="9" fill="#FF0000"/>
<rect x="1029" y="362" width="1" height="28" fill="#000000"/>
<rect x="1024" y="380" width="11" height="6" fill="#000000"/>
<rect x="1025" y="381" width="9" height="4" fill="#00FF00"/>
<rect x="1045" y="376" width="1" height="102" fill="#000000"/>
<rect x="1040" y="384" width="11" height="68" fill="#000000"/>
<rect x="1041" y="385" width="9" height="66" fill="#00FF00"/>
<rect x="1061" y="402" width="1" height="73" fill="#000000"/>
<rect x="1056" y="408" width="11" height="44" fill="#000000"/>
<rect x="1057" y="409" width="9" height="42" fill="#FF0000"/>
<rect x="1077" y="396" width="1" height="36" fill="#000000"/>
<rect x="1072" y="403" width="11" height="7" fill="#000000"/>
<rect x="1073" y="404" width="9" height="5" fill="#FF0000"/>
<rect x="1093" y="390" width="1" height="20" fill="#000000"/>
<rect x="1088" y="394" width="11" height="10" fill="#000000"/>
<rect x="1089" y="395" width="9" height="8" fill="#FF0000"/>
<rect x="1109" y="385" width="1" height="35" fill="#000000"/>
<rect x="1104" y="393" width="11" height="3" fill="#000000"/>
<rect x="1105" y="394" width="9" height="1" fill="#00FF00"/>
<rect x="1125" y="347" width="1" height="54" fill="#000000"/>
<rect x="1120" y="365" width="11" height="31" fill="#000000"/>
<rect x="1121" y="366" width="9" height="29" fill="#FF0000"/>
<rect x="1141" y="356" width="1" height="58" fill="#000000"/>
<rect x="1136" y="365" width="11" height="27" fill="#000000"/>
<rect x="1137" y="366" width="9" height="25" fill="#00FF00"/>
<rect x="1157" y="345" width="1" height="63" fill="#000000"/>
<rect x="1152" y="354" width="11" height="38" fill="#000000"/>
<rect x="1153" y="355" width="9" height="36" fill="#FF0000"/>
<rect x="1173" y="336" width="1" height="28" fill="#000000"/>
<rect x="1168" y="351" width="11" height="5" fill="#000000"/>
<rect x="1169" y="352" width="9" height="3" fill="#FF0000"/>
<rect x="1189" y="360" width="1" height="22" fill="#000000"/>
<rect x="1184" y="367" width="11" height="10" fill="#000000"/>
<rect x="1185" y="368" width="9" height="8" fill="#00FF00"/>
<rect x="1205" y="336" width="1" height="49" fill="#000000"/>
<rect x="1200" y="340" width="11" height="38" fill="#000000"/>
<rect x="1201" y="341" width="9" height="36" fill="#FF0000"/>
<rect x="1221" y="289" width="1" height="55" fill="#000000"/>
<rect x="1216" y="301" width="11" height="40" fill="#000000"/>
<rect x="1217" y="302" width="9" height="38" fill="#FF0000"/>
<rect x="1237" y="298" width="1" height="58" fill="#000000"/>
<rect x="1232" y="302" width="11" height="20" fill="#000000"/>
<rect x="1233" y="303" width="9" height="18" fill="#00FF00"/>
<rect x="1253" y="312" width="1" height="47" fill="#000000"/>
<rect x="1248" y="322" width="11" height="12" fill="#000000"/>
<rect x="1249" y="323" width="9" height="10" fill="#00FF00"/>
<rect x="1269" y="332" width="1" height="30" fill="#000000"/>
<rect x="1264" y="333" width="11" height="29" fill="#000000"/>
<rect x="1265" y="334" width="9" height="27" fill="#00FF00"/>
<rect x="1285" y="354" width="1" height="14" fill="#000000"/>
<rect x="1280" y="361" width="11" height="7" fill="#000000"/>
<rect x="1281" y="362" width="9" height="5" fill="#00FF00"/>
</g>
<clipPath id="c2"><rect x="5" y="599" width="1639" height="119"/></clipPath><g clip-path="url(#c2)">
<rect x="4" y="611" width="3" height="33" fill="#00FF00"/>
<rect x="20" y="610" width="3" height="34" fill="#00FF00"/>
<rect x="36" y="609" width="3" height="35" fill="#00FF00"/>
<rect x="52" y="607" width="3" height="37" fill="#00FF00"/>
<rect x="68" y="609" width="3" height="35" fill="#00FF00"/>
<rect x="84" y="610" width="3" height="34" fill="#00FF00"/>
<rect x="100" y="608" width="3" height="36" fill="#00FF00"/>
<rect x="116" y="605" width="3" height="39" fill="#00FF00"/>
<rect x="132" y="606" width="3" height="38" fill="#00FF00"/>
<rect x="148" y="607" width="3" height="37" fill="#00FF00"/>
<rect x="164" y="609" width="3" height="35" fill="#00FF00"/>
<rect x="180" y="608" width="3" height="36" fill="#00FF00"/>
<rect x="196" y="610" width="3" height="34" fill="#00FF00"/>
<rect x="212" y="612" width="3" height="32" fill="#00FF00"/>
<rect x="228" y="612" width="3" height="32" fill="#00FF00"/>
<rect x="244" y="612" width="3" height="32" fill="#00FF00"/>
<rect x="260" y="613" width="3" height="31" fill="#00FF00"/>
<rect x="276" y="614" width="3" height="30" fill="#00FF00"/>
<rect x="292" y="618" width="3" height="26" fill="#00FF00"/>
<rect x="308" y="620" width="3" height="24" fill="#00FF00"/>
<rect x="324" y="624" width="3" height="20" fill="#00FF00"/>
<rect x="340" y="627" width="3" height="17" fill="#00FF00"/>
<rect x="356" y="629" width="3" height="15" fill="#00FF00"/>
<rect x="372" y="629" width="3" height="15" fill="#00FF00"/>
<rect x="388" y="627" width="3" height="17" fill="#00FF00"/>
<rect x="404" y="625" width="3" height="19" fill="#00FF00"/>
<rect x="420" y="626" width="3" height="18" fill="#00FF00"/>
<rect x="436" y="622" width="3" height="22" fill="#00FF00"/>
<rect x="452" y="624" width="3" height="20" fill="#00FF00"/>
<rect x="468" y="623" width="3" height="21" fill="#00FF00"/>
<rect x="484" y="626" width="3" height="18" fill="#00FF00"/>
<rect x="500" y="633" width="3" height="11" fill="#00FF00"/>
<rect x="516" y="637" width="3" height="7" fill="#00FF00"/>
<rect x="532" y="641" width="3" height="3" fill="#00FF00"/>
<rect x="548" y="643" width="3" height="1" fill="#00FF00"/>
<rect x="564" y="644" width="3" height="7" fill="#00FF00"/>
<rect x="580" y="644" width="3" height="12" fill="#00FF00"/>
<rect x="596" y="644" width="3" height="16" fill="#00FF00"/>
<rect x="612" y="644" width="3" height="22" fill="#00FF00"/>
<rect x="628" y="644" width="3" height="29" fill="#00FF00"/>
<rect x="644" y="644" width="3" height="38" fill="#00FF00"/>
<rect x="660" y="644" width="3" height="43" fill="#00FF00"/>
<rect x="676" y="644" width="3" height="48" fill="#00FF00"/>
<rect x="692" y="644" width="3" height="51" fill="#00FF00"/>
<rect x="708" y="644" width="3" height="54" fill="#00FF00"/>
<rect x="724" y="644" width="3" height="55" fill="#00FF00"/>
<rect x="740" y="644" width="3" height="59" fill="#00FF00"/>
<rect x="756" y="644" width="3" height="63" fill="#00FF00"/>
<rect x="772" y="644" width="3" height="67" fill="#00FF00"/>
<rect x="788" y="644" width="3" height="67" fill="#00FF00"/>
<rect x="804" y="644" width="3" height="68" fill="#00FF00"/>
<rect x="820" y="644" width="3" height="68" fill="#00FF00"/>
<rect x="836" y="644" width="3" height="69" fill="#00FF00"/>
<rect x="852" y="644" width="3" height="69" fill="#00FF00"/>
<rect x="868" y="644" width="3" height="60" fill="#00FF00"/>
<rect x="884" y="644" width="3" height="51" fill="#00FF00"/>
<rect x="900" y="644" width="3" height="45" fill="#00FF00"/>
<rect x="916" y="644" width="3" height="38" fill="#00FF00"/>
<rect x="932" y="644" width="3" height="34" fill="#00FF00"/>
<rect x="948" y="644" width="3" height="29" fill="#00FF00"/>
<rect x="964" y="644" width="3" height="25" fill="#00FF00"/>
<rect x="980" y="644" width="3" height="21" fill="#00FF00"/>
<rect x="996" y="644" width="3" height="17" fill="#00FF00"/>
<rect x="1012" y="644" width="3" height="14" fill="#00FF00"/>
<rect x="1028" y="644" width="3" height="12" fill="#00FF00"/>
<rect x="1044" y="644" width="3" height="13" fill="#00FF00"/>
<rect x="1060" y="644" width="3" height="12" fill="#00FF00"/>
<rect x="1076" y="644" width="3" height="11" fill="#00FF00"/>
<rect x="1092" y="644" width="3" height="9" fill="#00FF00"/>
<rect x="1108" y="644" width="3" height="8" fill="#00FF00"/>
<rect x="1124" y="644" width="3" height="5" fill="#00FF00"/>
<rect x="1140" y="644" width="3" height="4" fill="#00FF00"/>
<rect x="1156" y="644" width="3" height="1" fill="#00FF00"/>
<rect x="1172" y="642" width="3" height="2" fill="#00FF00"/>
<rect x="1188" y="641" width="3" height="3" fill="#00FF00"/>
<rect x="1204" y="639" width="3" height="5" fill="#00FF00"/>
<rect x="1220" y="635" width="3" height="9" fill="#00FF00"/>
<rect x="1236" y="633" width="3" height="11" fill="#00FF00"/>
<rect x="1252" y="632" width="3" height="12" fill="#00FF00"/>
<rect x="1268" y="633" width="3" height="11" fill="#00FF00"/>
<rect x="1284" y="635" width="3" height="9" fill="#00FF00"/>
</g>
<path d="M6 742h3v1h-3zM12 742h3v1h-3zM18 742h3v1h-3zM24 742h3v1h-3zM30 742h3v1h-3zM36 742h3v1h-3zM42 742h3v1h-3zM48 742h3v1h-3zM54 742h3v1h-3zM60 742h3v1h-3zM66 742h3v1h-3zM72 742h3v1h-3zM78 742h3v1h-3zM84 742h3v1h-3zM90 742h3v1h-3zM96 742h3v1h-3zM102 742h3v1h-3zM108 742h3v1h-3zM114 742h3v1h-3zM120 742h3v1h-3zM126 742h3v1h-3zM132 742h3v1h-3zM138 742h3v1h-3zM144 742h3v1h-3zM150 742h3v1h-3zM156 742h3v1h-3zM162 742h3v1h-3zM168 742h3v1h-3zM174 742h3v1h-3zM180 742h3v1h-3zM186 742h3v1h-3zM192 742h3v1h-3zM198 742h3v1h-3zM204 742h3v1h-3zM210 742h3v1h-3zM216 742h3v1h-3zM222 742h3v1h-3zM228 742h3v1h-3zM234 742h3v1h-3zM240 742h3v1h-3zM246 742h3v1h-3zM252 742h3v1h-3zM258 742h3v1h-3zM264 742h3v1h-3zM270 742h3v1h-3zM276 742h3v1h-3zM282 742h3v1h-3zM288 742h3v1h-3zM294 742h3v1h-3zM300 742h3v1h-3zM306 742h3v1h-3zM312 742h3v1h-3zM318 742h3v1h-3zM324 742h3v1h-3zM330 742h3v1h-3zM336 742h3v1h-3zM342 742h3v1h-3zM348 742h3v1h-3zM354 742h3v1h-3zM360 742h3v1h-3zM366 742h3v1h-3zM372 742h3v1h-3zM378 742h3v1h-3zM384 742h3v1h-3zM390 742h3v1h-3zM396 742h3v1h-3zM402 742h3v1h-3zM408 742h3v1h-3zM414 742h3v1h-3zM420 742h3v1h-3zM426 742h3v1h-3zM432 742h3v1h-3zM438 742h3v1h-3zM444 742h3v1h-3zM450 742h3v1h-3zM456 742h3v1h-3zM462 742h3v1h-3zM468 742h3v1h-3zM474 742h3v1h-3zM480 742h3v1h-3zM486 742h3v1h-3zM492 742h3v1h-3zM498 742h3v1h-3zM504 742h3v1h-3zM510 742h3v1h-3zM516 742h3v1h-3zM522 742h3v1h-3zM528 742h3v1h-3zM534 742h3v1h-3zM540 742h3v1h-3zM546 742h3v1h-3zM552 742h3v1h-3zM558 742h3v1h-3zM564 742h3v1h-3zM570 742h3v1h-3zM576 742h3v1h-3zM582 742h3v1h-3zM588 742h3v1h-3zM594 742h3v1h-3zM600 742h3v1h-3zM606 742h3v1h-3zM612 742h3v1h-3zM618 742h3v1h-3zM624 742h3v1h-3zM630 742h3v1h-3zM636 742h3v1h-3zM642 742h3v1h-3zM648 742h3v1h-3zM654 742h3v1h-3zM660 742h3v1h-3zM666 742h3v1h-3zM672 742h3v1h-3zM678 742h3v1h-3zM684 742h3v1h-3zM690 742h3v1h-3zM696 742h3v1h-3zM702 742h3v1h-3zM708 742h3v1h-3zM714 742h3v1h-3zM720 742h3v1h-3zM726 742h3v1h-3zM732 742h3v1h-3zM738 742h3v1h-3zM744 742h3v1h-3zM750 742h3v1h-3zM756 742h3v1h-3zM762 742h3v1h-3zM768 742h3v1h-3zM774 742h3v1h-3zM780 742h3v1h-3zM786 742h3v1h-3zM792 742h3v1h-3zM798 742h3v1h-3zM804 742h3v1h-3zM810 742h3v1h-3zM816 742h3v1h-3zM822 742h3v1h-3zM828 742h3v1h-3zM834 742h3v1h-3zM840 742h3v1h-3zM846 742h3v1h-3zM852 742h3v1h-3zM858 742h3v1h-3zM864 742h3v1h-3zM870 742h3v1h-3zM876 742h3v1h-3zM882 742h3v1h-3zM888 742h3v1h-3zM894 742h3v1h-3zM900 742h3v1h-3zM906 742h3v1h-3zM912 742h3v1h-3zM918 742h3v1h-3zM924 742h3v1h-3zM930 742h3v1h-3zM936 742h3v1h-3zM942 742h3v1h-3zM948 742h3v1h-3zM954 742h3v1h-3zM960 742h3v1h-3zM966 742h3v1h-3zM972 742h3v1h-3zM978 742h3v1h-3zM984 742h3v1h-3zM990 742h3v1h-3zM996 742h3v1h-3zM1002 742h3v1h-3zM1008 742h3v1h-3zM1014 742h3v1h-3zM1020 742h3v1h-3zM1026 742h3v1h-3zM1032 742h3v1h-3zM1038 742h3v1h-3zM1044 742h3v1h-3zM1050 742h3v1h-3zM1056 742h3v1h-3zM1062 742h3v1h-3zM1068 742h3v1h-3zM1074 742h3v1h-3zM1080 742h3v1h-3zM1086 742h3v1h-3zM1092 742h3v1h-3zM1098 742h3v1h-3zM1104 742h3v1h-3zM1110 742h3v1h-3zM1116 742h3v1h-3zM1122 742h3v1h-3zM1128 742h3v1h-3zM1134 742h3v1h-3zM1140 742h3v1h-3zM1146 742h3v1h-3zM1152 742h3v1h-3zM1158 742h3v1h-3zM1164 742h3v1h-3zM1170 742h3v1h-3zM1176 742h3v1h-3zM1182 742h3v1h-3zM1188 742h3v1h-3zM1194 742h3v1h-3zM1200 742h3v1h-3zM1206 742h3v1h-3zM1212 742h3v1h-3zM1218 742h3v1h-3zM1224 742h3v1h-3zM1230 742h3v1h-3zM1236 742h3v1h-3zM1242 742h3v1h-3zM1248 742h3v1h-3zM1254 742h3v1h-3zM1260 742h3v1h-3zM1266 742h3v1h-3zM1272 742h3v1h-3zM1278 742h3v1h-3zM1284 742h3v1h-3zM1290 742h3v1h-3zM1296 742h3v1h-3zM1302 742h3v1h-3zM1308 742h3v1h-3zM1314 742h3v1h-3zM1320 742h3v1h-3zM1326 742h3v1h-3zM1332 742h3v1h-3zM1338 742h3v1h-3zM1344 742h3v1h-3zM1350 742h3v1h-3zM1356 742h3v1h-3zM1362 742h3v1h-3zM1368 742h3v1h-3zM1374 742h3v1h-3zM1380 742h3v1h-3zM1386 742h3v1h-3zM1392 742h3v1h-3zM1398 742h3v1h-3zM1404 742h3v1h-3zM1410 742h3v1h-3zM1416 742h3v1h-3zM1422 742h3v1h-3zM1428 742h3v1h-3zM1434 742h3v1h-3zM1440 742h3v1h-3zM1446 742h3v1h-3zM1452 742h3v1h-3zM1458 742h3v1h-3zM1464 742h3v1h-3zM1470 742h3v1h-3zM1476 742h3v1h-3zM1482 742h3v1h-3zM1488 742h3v1h-3zM1494 742h3v1h-3zM1500 742h3v1h-3zM1506 742h3v1h-3zM1512 742h3v1h-3zM1518 742h3v1h-3zM1524 742h3v1h-3zM1530 742h3v1h-3zM1536 742h3v1h-3zM1542 742h3v1h-3zM1548 742h3v1h-3zM1554 742h3v1h-3zM1560 742h3v1h-3zM1566 742h3v1h-3zM1572 742h3v1h-3zM1578 742h3v1h-3zM1584 742h3v1h-3zM1590 742h3v1h-3zM1596 742h3v1h-3zM1602 742h3v1h-3zM1608 742h3v1h-3zM1614 742h3v1h-3zM1620 742h3v1h-3zM1626 742h3v1h-3zM1632 742h3v1h-3zM1638 742h3v1h-3z" fill="#000"/>
<path d="M6 772h3v1h-3zM12 772h3v1h-3zM18 772h3v1h-3zM24 772h3v1h-3zM30 772h3v1h-3zM36 772h3v1h-3zM42 772h3v1h-3zM48 772h3v1h-3zM54 772h3v1h-3zM60 772h3v1h-3zM66 772h3v1h-3zM72 772h3v1h-3zM78 772h3v1h-3zM84 772h3v1h-3zM90 772h3v1h-3zM96 772h3v1h-3zM102 772h3v1h-3zM108 772h3v1h-3zM114 772h3v1h-3zM120 772h3v1h-3zM126 772h3v1h-3zM132 772h3v1h-3zM138 772h3v1h-3zM144 772h3v1h-3zM150 772h3v1h-3zM156 772h3v1h-3zM162 772h3v1h-3zM168 772h3v1h-3zM174 772h3v1h-3zM180 772h3v1h-3zM186 772h3v1h-3zM192 772h3v1h-3zM198 772h3v1h-3zM204 772h3v1h-3zM210 772h3v1h-3zM216 772h3v1h-3zM222 772h3v1h-3zM228 772h3v1h-3zM234 772h3v1h-3zM240 772h3v1h-3zM246 772h3v1h-3zM252 772h3v1h-3zM258 772h3v1h-3zM264 772h3v1h-3zM270 772h3v1h-3zM276 772h3v1h-3zM282 772h3v1h-3zM288 772h3v1h-3zM294 772h3v1h-3zM300 772h3v1h-3zM306 772h3v1h-3zM312 772h3v1h-3zM318 772h3v1h-3zM324 772h3v1h-3zM330 772h3v1h-3zM336 772h3v1h-3zM342 772h3v1h-3zM348 772h3v1h-3zM354 772h3v1h-3zM360 772h3v1h-3zM366 772h3v1h-3zM372 772h3v1h-3zM378 772h3v1h-3zM384 772h3v1h-3zM390 772h3v1h-3zM396 772h3v1h-3zM402 772h3v1h-3zM408 772h3v1h-3zM414 772h3v1h-3zM420 772h3v1h-3zM426 772h3v1h-3zM432 772h3v1h-3zM438 772h3v1h-3zM444 772h3v1h-3zM450 772h3v1h-3zM456 772h3v1h-3zM462 772h3v1h-3zM468 772h3v1h-3zM474 772h3v1h-3zM480 772h3v1h-3zM486 772h3v1h-3zM492 772h3v1h-3zM498 772h3v1h-3zM504 772h3v1h-3zM510 772h3v1h-3zM516 772h3v1h-3zM522 772h3v1h-3zM528 772h3v1h-3zM534 772h3v1h-3zM540 772h3v1h-3zM546 772h3v1h-3zM552 772h3v1h-3zM558 772h3v1h-3zM564 772h3v1h-3zM570 772h3v1h-3zM576 772h3v1h-3zM582 772h3v1h-3zM588 772h3v1h-3zM594 772h3v1h-3zM600 772h3v1h-3zM606 772h3v1h-3zM612 772h3v1h-3zM618 772h3v1h-3zM624 772h3v1h-3zM630 772h3v1h-3zM636 772h3v1h-3zM642 772h3v1h-3zM648 772h3v1h-3zM654 772h3v1h-3zM660 772h3v1h-3zM666 772h3v1h-3zM672 772h3v1h-3zM678 772h3v1h-3zM684 772h3v1h-3zM690 772h3v1h-3zM696 772h3v1h-3zM702 772h3v1h-3zM708 772h3v1h-3zM714 772h3v1h-3zM720 772h3v1h-3zM726 772h3v1h-3zM732 772h3v1h-3zM738 772h3v1h-3zM744 772h3v1h-3zM750 772h3v1h-3zM756 772h3v1h-3zM762 772h3v1h-3zM768 772h3v1h-3zM774 772h3v1h-3zM780 772h3v1h-3zM786 772h3v1h-3zM792 772h3v1h-3zM798 772h3v1h-3zM804 772h3v1h-3zM810 772h3v1h-3zM816 772h3v1h-3zM822 772h3v1h-3zM828 772h3v1h-3zM834 772h3v1h-3zM840 772h3v1h-3zM846 772h3v1h-3zM852 772h3v1h-3zM858 772h3v1h-3zM864 772h3v1h-3zM870 772h3v1h-3zM876 772h3v1h-3zM882 772h3v1h-3zM888 772h3v1h-3zM894 772h3v1h-3zM900 772h3v1h-3zM906 772h3v1h-3zM912 772h3v1h-3zM918 772h3v1h-3zM924 772h3v1h-3zM930 772h3v1h-3zM936 772h3v1h-3zM942 772h3v1h-3zM948 772h3v1h-3zM954 772h3v1h-3zM960 772h3v1h-3zM966 772h3v1h-3zM972 772h3v1h-3zM978 772h3v1h-3zM984 772h3v1h-3zM990 772h3v1h-3zM996 772h3v1h-3zM1002 772h3v1h-3zM1008 772h3v1h-3zM1014 772h3v1h-3zM1020 772h3v1h-3zM1026 772h3v1h-3zM1032 772h3v1h-3zM1038 772h3v1h-3zM1044 772h3v1h-3zM1050 772h3v1h-3zM1056 772h3v1h-3zM1062 772h3v1h-3zM1068 772h3v1h-3zM1074 772h3v1h-3zM1080 772h3v1h-3zM1086 772h3v1h-3zM1092 772h3v1h-3zM1098 772h3v1h-3zM1104 772h3v1h-3zM1110 772h3v1h-3zM1116 772h3v1h-3zM1122 772h3v1h-3zM1128 772h3v1h-3zM1134 772h3v1h-3zM1140 772h3v1h-3zM1146 772h3v1h-3zM1152 772h3v1h-3zM1158 772h3v1h-3zM1164 772h3v1h-3zM1170 772h3v1h-3zM1176 772h3v1h-3zM1182 772h3v1h-3zM1188 772h3v1h-3zM1194 772h3v1h-3zM1200 772h3v1h-3zM1206 772h3v1h-3zM1212 772h3v1h-3zM1218 772h3v1h-3zM1224 772h3v1h-3zM1230 772h3v1h-3zM1236 772h3v1h-3zM1242 772h3v1h-3zM1248 772h3v1h-3zM1254 772h3v1h-3zM1260 772h3v1h-3zM1266 772h3v1h-3zM1272 772h3v1h-3zM1278 772h3v1h-3zM1284 772h3v1h-3zM1290 772h3v1h-3zM1296 772h3v1h-3zM1302 772h3v1h-3zM1308 772h3v1h-3zM1314 772h3v1h-3zM1320 772h3v1h-3zM1326 772h3v1h-3zM1332 772h3v1h-3zM1338 772h3v1h-3zM1344 772h3v1h-3zM1350 772h3v1h-3zM1356 772h3v1h-3zM1362 772h3v1h-3zM1368 772h3v1h-3zM1374 772h3v1h-3zM1380 772h3v1h-3zM1386 772h3v1h-3zM1392 772h3v1h-3zM1398 772h3v1h-3zM1404 772h3v1h-3zM1410 772h3v1h-3zM1416 772h3v1h-3zM1422 772h3v1h-3zM1428 772h3v1h-3zM1434 772h3v1h-3zM1440 772h3v1h-3zM1446 772h3v1h-3zM1452 772h3v1h-3zM1458 772h3v1h-3zM1464 772h3v1h-3zM1470 772h3v1h-3zM1476 772h3v1h-3zM1482 772h3v1h-3zM1488 772h3v1h-3zM1494 772h3v1h-3zM1500 772h3v1h-3zM1506 772h3v1h-3zM1512 772h3v1h-3zM1518 772h3v1h-3zM1524 772h3v1h-3zM1530 772h3v1h-3zM1536 772h3v1h-3zM1542 772h3v1h-3zM1548 772h3v1h-3zM1554 772h3v1h-3zM1560 772h3v1h-3zM1566 772h3v1h-3zM1572 772h3v1h-3zM1578 772h3v1h-3zM1584 772h3v1h-3zM1590 772h3v1h-3zM1596 772h3v1h-3zM1602 772h3v1h-3zM1608 772h3v1h-3zM1614 772h3v1h-3zM1620 772h3v1h-3zM1626 772h3v1h-3zM1632 772h3v1h-3zM1638 772h3v1h-3z" fill="#000"/>
<path d="M6 808h3v1h-3zM12 808h3v1h-3zM18 808h3v1h-3zM24 808h3v1h-3zM30 808h3v1h-3zM36 808h3v1h-3zM42 808h3v1h-3zM48 808h3v1h-3zM54 808h3v1h-3zM60 808h3v1h-3zM66 808h3v1h-3zM72 808h3v1h-3zM78 808h3v1h-3zM84 808h3v1h-3zM90 808h3v1h-3zM96 808h3v1h-3zM102 808h3v1h-3zM108 808h3v1h-3zM114 808h3v1h-3zM120 808h3v1h-3zM126 808h3v1h-3zM132 808h3v1h-3zM138 808h3v1h-3zM144 808h3v1h-3zM150 808h3v1h-3zM156 808h3v1h-3zM162 808h3v1h-3zM168 808h3v1h-3zM174 808h3v1h-3zM180 808h3v1h-3zM186 808h3v1h-3zM192 808h3v1h-3zM198 808h3v1h-3zM204 808h3v1h-3zM210 808h3v1h-3zM216 808h3v1h-3zM222 808h3v1h-3zM228 808h3v1h-3zM234 808h3v1h-3zM240 808h3v1h-3zM246 808h3v1h-3zM252 808h3v1h-3zM258 808h3v1h-3zM264 808h3v1h-3zM270 808h3v1h-3zM276 808h3v1h-3zM282 808h3v1h-3zM288 808h3v1h-3zM294 808h3v1h-3zM300 808h3v1h-3zM306 808h3v1h-3zM312 808h3v1h-3zM318 808h3v1h-3zM324 808h3v1h-3zM330 808h3v1h-3zM336 808h3v1h-3zM342 808h3v1h-3zM348 808h3v1h-3zM354 808h3v1h-3zM360 808h3v1h-3zM366 808h3v1h-3zM372 808h3v1h-3zM378 808h3v1h-3zM384 808h3v1h-3zM390 808h3v1h-3zM396 808h3v1h-3zM402 808h3v1h-3zM408 808h3v1h-3zM414 808h3v1h-3zM420 808h3v1h-3zM426 808h3v1h-3zM432 808h3v1h-3zM438 808h3v1h-3zM444 808h3v1h-3zM450 808h3v1h-3zM456 808h3v1h-3zM462 808h3v1h-3zM468 808h3v1h-3zM474 808h3v1h-3zM480 808h3v1h-3zM486 808h3v1h-3zM492 808h3v1h-3zM498 808h3v1h-3zM504 808h3v1h-3zM510 808h3v1h-3zM516 808h3v1h-3zM522 808h3v1h-3zM528 808h3v1h-3zM534 808h3v1h-3zM540 808h3v1h-3zM546 808h3v1h-3zM552 808h3v1h-3zM558 808h3v1h-3zM564 808h3v1h-3zM570 808h3v1h-3zM576 808h3v1h-3zM582 808h3v1h-3zM588 808h3v1h-3zM594 808h3v1h-3zM600 808h3v1h-3zM606 808h3v1h-3zM612 808h3v1h-3zM618 808h3v1h-3zM624 808h3v1h-3zM630 808h3v1h-3zM636 808h3v1h-3zM642 808h3v1h-3zM648 808h3v1h-3zM654 808h3v1h-3zM660 808h3v1h-3zM666 808h3v1h-3zM672 808h3v1h-3zM678 808h3v1h-3zM684 808h3v1h-3zM690 808h3v1h-3zM696 808h3v1h-3zM702 808h3v1h-3zM708 808h3v1h-3zM714 808h3v1h-3zM720 808h3v1h-3zM726 808h3v1h-3zM732 808h3v1h-3zM738 808h3v1h-3zM744 808h3v1h-3zM750 808h3v1h-3zM756 808h3v1h-3zM762 808h3v1h-3zM768 808h3v1h-3zM774 808h3v1h-3zM780 808h3v1h-3zM786 808h3v1h-3zM792 808h3v1h-3zM798 808h3v1h-3zM804 808h3v1h-3zM810 808h3v1h-3zM816 808h3v1h-3zM822 808h3v1h-3zM828 808h3v1h-3zM834 808h3v1h-3zM840 808h3v1h-3zM846 808h3v1h-3zM852 808h3v1h-3zM858 808h3v1h-3zM864 808h3v1h-3zM870 808h3v1h-3zM876 808h3v1h-3zM882 808h3v1h-3zM888 808h3v1h-3zM894 808h3v1h-3zM900 808h3v1h-3zM906 808h3v1h-3zM912 808h3v1h-3zM918 808h3v1h-3zM924 808h3v1h-3zM930 808h3v1h-3zM936 808h3v1h-3zM942 808h3v1h-3zM948 808h3v1h-3zM954 808h3v1h-3zM960 808h3v1h-3zM966 808h3v1h-3zM972 808h3v1h-3zM978 808h3v1h-3zM984 808h3v1h-3zM990 808h3v1h-3zM996 808h3v1h-3zM1002 808h3v1h-3zM1008 808h3v1h-3zM1014 808h3v1h-3zM1020 808h3v1h-3zM1026 808h3v1h-3zM1032 808h3v1h-3zM1038 808h3v1h-3zM1044 808h3v1h-3zM1050 808h3v1h-3zM1056 808h3v1h-3zM1062 808h3v1h-3zM1068 808h3v1h-3zM1074 808h3v1h-3zM1080 808h3v1h-3zM1086 808h3v1h-3zM1092 808h3v1h-3zM1098 808h3v1h-3zM1104 808h3v1h-3zM1110 808h3v1h-3zM1116 808h3v1h-3zM1122 808h3v1h-3zM1128 808h3v1h-3zM1134 808h3v1h-3zM1140 808h3v1h-3zM1146 808h3v1h-3zM1152 808h3v1h-3zM1158 808h3v1h-3zM1164 808h3v1h-3zM1170 808h3v1h-3zM1176 808h3v1h-3zM1182 808h3v1h-3zM1188 808h3v1h-3zM1194 808h3v1h-3zM1200 808h3v1h-3zM1206 808h3v1h-3zM1212 808h3v1h-3zM1218 808h3v1h-3zM1224 808h3v1h-3zM1230 808h3v1h-3zM1236 808h3v1h-3zM1242 808h3v1h-3zM1248 808h3v1h-3zM1254 808h3v1h-3zM1260 808h3v1h-3zM1266 808h3v1h-3zM1272 808h3v1h-3zM1278 808h3v1h-3zM1284 808h3v1h-3zM1290 808h3v1h-3zM1296 808h3v1h-3zM1302 808h3v1h-3zM1308 808h3v1h-3zM1314 808h3v1h-3zM1320 808h3v1h-3zM1326 808h3v1h-3zM1332 808h3v1h-3zM1338 808h3v1h-3zM1344 808h3v1h-3zM1350 808h3v1h-3zM1356 808h3v1h-3zM1362 808h3v1h-3zM1368 808h3v1h-3zM1374 808h3v1h-3zM1380 808h3v1h-3zM1386 808h3v1h-3zM1392 808h3v1h-3zM1398 808h3v1h-3zM1404 808h3v1h-3zM1410 808h3v1h-3zM1416 808h3v1h-3zM1422 808h3v1h-3zM1428 808h3v1h-3zM1434 808h3v1h-3zM1440 808h3v1h-3zM1446 808h3v1h-3zM1452 808h3v1h-3zM1458 808h3v1h-3zM1464 808h3v1h-3zM1470 808h3v1h-3zM1476 808h3v1h-3zM1482 808h3v1h-3zM1488 808h3v1h-3zM1494 808h3v1h-3zM1500 808h3v1h-3zM1506 808h3v1h-3zM1512 808h3v1h-3zM1518 808h3v1h-3zM1524 808h3v1h-3zM1530 808h3v1h-3zM1536 808h3v1h-3zM1542 808h3v1h-3zM1548 808h3v1h-3zM1554 808h3v1h-3zM1560 808h3v1h-3zM1566 808h3v1h-3zM1572 808h3v1h-3zM1578 808h3v1h-3zM1584 808h3v1h-3zM1590 808h3v1h-3zM1596 808h3v1h-3zM1602 808h3v1h-3zM1608 808h3v1h-3zM1614 808h3v1h-3zM1620 808h3v1h-3zM1626 808h3v1h-3zM1632 808h3v1h-3zM1638 808h3v1h-3z" fill="#000"/>
</g>
<text transform="translate(9.4,611.0) scale(0.9467,1)" font-size="9.8" fill="#000" stroke="#000" stroke-width="0.2">MACD(12,26,9) 0.000915 0.000694</text>
<polyline points="5,618 21,616 37,614 53,613 75,612 101,610 117,608 150,607 195,607 230,609 275,611 310,614 350,619 375,622 405,624.5 422,625 485,625 517,627 532,628 565,634 597,641.5 629,651 661,662.5 693,673.5 725,683.5 757,692.5 773,696.5 789,699.5 805,702.5 821,704 837,706 853,708 885,708 901,706 917,702 933,699 949,694.5 965,690.5 981,684.5 997,678 1013,673 1029,669 1045,666.5 1061,663.5 1077,660.5 1093,658 1109,656 1125,654 1141,653 1157,651 1173,650 1189,648 1205,646 1221,644 1237,642.5 1253,640.5 1269,638 1285,637.5" fill="none" stroke="#FF0000" stroke-width="2" stroke-linejoin="round" shape-rendering="crispEdges"/>
<clipPath id="c3"><rect x="5" y="721" width="1639" height="103"/></clipPath>
<polyline points="5.5,761 21.5,757 37.5,754.5 53.5,754.5 69.5,764 85.5,760.5 101.5,753.5 117.5,758.5 133.5,759.5 149.5,760 165.5,764 181.5,758.5 197.5,764.5 213.5,764.5 229.5,760.5 245.5,761.5 261.5,761.5 277.5,763.5 293.5,767.5 309.5,768 325.5,771.5 341.5,771.5 357.5,770 373.5,764 389.5,760 405.5,759 421.5,758.5 437.5,756.5 453.5,767.5 469.5,761.5 485.5,772.5 501.5,779.5 517.5,779 533.5,778.5 549.5,778.5 565.5,785.5 581.5,785.5 597.5,788.5 613.5,791 629.5,795 645.5,799.5 661.5,794 677.5,794.5 693.5,794.5 709.5,795 725.5,796 741.5,800.5 757.5,801 773.5,801 789.5,797.5 805.5,798 821.5,799 837.5,799.5 853.5,799.5 869.5,775 885.5,775 901.5,775 917.5,774 933.5,776 949.5,774 965.5,773.5 981.5,771.5 997.5,771.5 1013.5,771 1029.5,770.5 1045.5,781 1061.5,774 1077.5,774 1093.5,772 1109.5,771.5 1125.5,768.5 1141.5,771.5 1157.5,766 1173.5,766 1189.5,771 1205.5,765 1221.5,760.5 1237.5,764 1253.5,766 1269.5,771.5 1285.5,772" fill="none" stroke="#1E90FF" stroke-width="2" stroke-linejoin="round" shape-rendering="crispEdges" clip-path="url(#c3)"/>
<text transform="translate(9.2,733.0) scale(0.9373,1)" font-size="9.8" fill="#000" stroke="#000" stroke-width="0.2">RSI(14) 50.4182</text>
<g shape-rendering="crispEdges">
<rect x="4" y="283" width="1642" height="2" fill="#FF0000"/>
<rect x="5" y="323" width="1642" height="2" fill="#FF0000"/>
<rect x="4" y="391" width="1642" height="2" fill="#FFA500"/>
<rect x="4" y="433" width="1642" height="2" fill="#0000FF"/>
<rect x="4" y="467" width="1642" height="2" fill="#0000FF"/>
</g>
<line x1="1010" y1="487.5" x2="1348" y2="415" stroke="#E8141E" stroke-width="3"/>
<polygon points="1363,411.6 1344,406.6 1347.8,424" fill="#E8141E"/>
<line x1="1254" y1="285" x2="1297" y2="322" stroke="#4F9A2F" stroke-width="3"/>
<polygon points="1308,331.2 1289,326.5 1300.4,313.4" fill="#4F9A2F"/>
<g shape-rendering="crispEdges">
<rect x="4" y="281" width="6" height="6" fill="#FF0000"/>
<rect x="6" y="283" width="2" height="2" fill="#fff"/>
<rect x="1638" y="281" width="6" height="6" fill="#FF0000"/>
<rect x="1640" y="283" width="2" height="2" fill="#fff"/>
<rect x="4" y="389" width="6" height="6" fill="#FFA500"/>
<rect x="6" y="391" width="2" height="2" fill="#fff"/>
<rect x="1638" y="389" width="6" height="6" fill="#FFA500"/>
<rect x="1640" y="391" width="2" height="2" fill="#fff"/>
<rect x="4" y="431" width="6" height="6" fill="#0000FF"/>
<rect x="6" y="433" width="2" height="2" fill="#fff"/>
<rect x="1638" y="431" width="6" height="6" fill="#0000FF"/>
<rect x="1640" y="433" width="2" height="2" fill="#fff"/>
<rect x="4" y="465" width="6" height="6" fill="#0000FF"/>
<rect x="6" y="467" width="2" height="2" fill="#fff"/>
<rect x="1638" y="465" width="6" height="6" fill="#0000FF"/>
<rect x="1640" y="467" width="2" height="2" fill="#fff"/>
<rect x="1646" y="278" width="41" height="11" fill="#FF0000"/>
<rect x="1646" y="318" width="41" height="11" fill="#FF0000"/>
<rect x="1646" y="386" width="41" height="11" fill="#FFA500"/>
<rect x="1646" y="428" width="41" height="11" fill="#0000FF"/>
<rect x="1646" y="462" width="41" height="11" fill="#0000FF"/>
<rect x="1646" y="362" width="41" height="11" fill="#000000"/>
</g>
<text transform="translate(1650,287.0) scale(0.9316,1)" font-size="9.8" fill="#fff" stroke="#fff" stroke-width="0.2">0.96983</text>
<text transform="translate(1650,327.0) scale(0.9316,1)" font-size="9.8" fill="#fff" stroke="#fff" stroke-width="0.2">0.96689</text>
<text transform="translate(1650,395.0) scale(0.9316,1)" font-size="9.8" fill="#fff" stroke="#fff" stroke-width="0.2">0.96190</text>
<text transform="translate(1650,437.0) scale(0.9316,1)" font-size="9.8" fill="#fff" stroke="#fff" stroke-width="0.2">0.95881</text>
<text transform="translate(1650,471.0) scale(0.9316,1)" font-size="9.8" fill="#fff" stroke="#fff" stroke-width="0.2">0.95631</text>
<text transform="translate(1650,371.0) scale(0.9316,1)" font-size="9.8" fill="#fff" stroke="#fff" stroke-width="0.2">0.96369</text>
<text transform="translate(4,837.0) scale(0.9589,1)" font-size="9.8" fill="#000" stroke="#000" stroke-width="0.2">31 Aug 2022</text>
<text transform="translate(68,837.0) scale(0.9308,1)" font-size="9.8" fill="#000" stroke="#000" stroke-width="0.2">1 Sep 04:00</text>
<text transform="translate(132,837.0) scale(0.9308,1)" font-size="9.8" fill="#000" stroke="#000" stroke-width="0.2">1 Sep 20:00</text>
<text transform="translate(196,837.0) scale(0.9308,1)" font-size="9.8" fill="#000" stroke="#000" stroke-width="0.2">2 Sep 12:00</text>
<text transform="translate(260,837.0) scale(0.9308,1)" font-size="9.8" fill="#000" stroke="#000" stroke-width="0.2">5 Sep 04:00</text>
<text transform="translate(324,837.0) scale(0.9308,1)" font-size="9.8" fill="#000" stroke="#000" stroke-width="0.2">5 Sep 20:00</text>
<text transform="translate(388,837.0) scale(0.9308,1)" font-size="9.8" fill="#000" stroke="#000" stroke-width="0.2">6 Sep 12:00</text>
<text transform="translate(452,837.0) scale(0.9308,1)" font-size="9.8" fill="#000" stroke="#000" stroke-width="0.2">7 Sep 04:00</text>
<text transform="translate(516,837.0) scale(0.9308,1)" font-size="9.8" fill="#000" stroke="#000" stroke-width="0.2">7 Sep 20:00</text>
<text transform="translate(580,837.0) scale(0.9308,1)" font-size="9.8" fill="#000" stroke="#000" stroke-width="0.2">8 Sep 12:00</text>
<text transform="translate(644,837.0) scale(0.9308,1)" font-size="9.8" fill="#000" stroke="#000" stroke-width="0.2">9 Sep 04:00</text>
<text transform="translate(708,837.0) scale(0.9296,1)" font-size="9.8" fill="#000" stroke="#000" stroke-width="0.2">11 Sep 23:00</text>
<text transform="translate(772,837.0) scale(0.9296,1)" font-size="9.8" fill="#000" stroke="#000" stroke-width="0.2">12 Sep 12:00</text>
<text transform="translate(836,837.0) scale(0.9296,1)" font-size="9.8" fill="#000" stroke="#000" stroke-width="0.2">13 Sep 04:00</text>
<text transform="translate(900,837.0) scale(0.9296,1)" font-size="9.8" fill="#000" stroke="#000" stroke-width="0.2">13 Sep 20:00</text>
<text transform="translate(964,837.0) scale(0.9296,1)" font-size="9.8" fill="#000" stroke="#000" stroke-width="0.2">14 Sep 12:00</text>
<text transform="translate(1028,837.0) scale(0.9296,1)" font-size="9.8" fill="#000" stroke="#000" stroke-width="0.2">15 Sep 04:00</text>
<text transform="translate(1092,837.0) scale(0.9296,1)" font-size="9.8" fill="#000" stroke="#000" stroke-width="0.2">15 Sep 20:00</text>
<text transform="translate(1156,837.0) scale(0.9296,1)" font-size="9.8" fill="#000" stroke="#000" stroke-width="0.2">16 Sep 12:00</text>
<text transform="translate(1220,837.0) scale(0.9296,1)" font-size="9.8" fill="#000" stroke="#000" stroke-width="0.2">19 Sep 04:00</text>
<text transform="translate(1284,837.0) scale(0.9296,1)" font-size="9.8" fill="#000" stroke="#000" stroke-width="0.2">19 Sep 20:00</text>
</svg>
</body></html>
